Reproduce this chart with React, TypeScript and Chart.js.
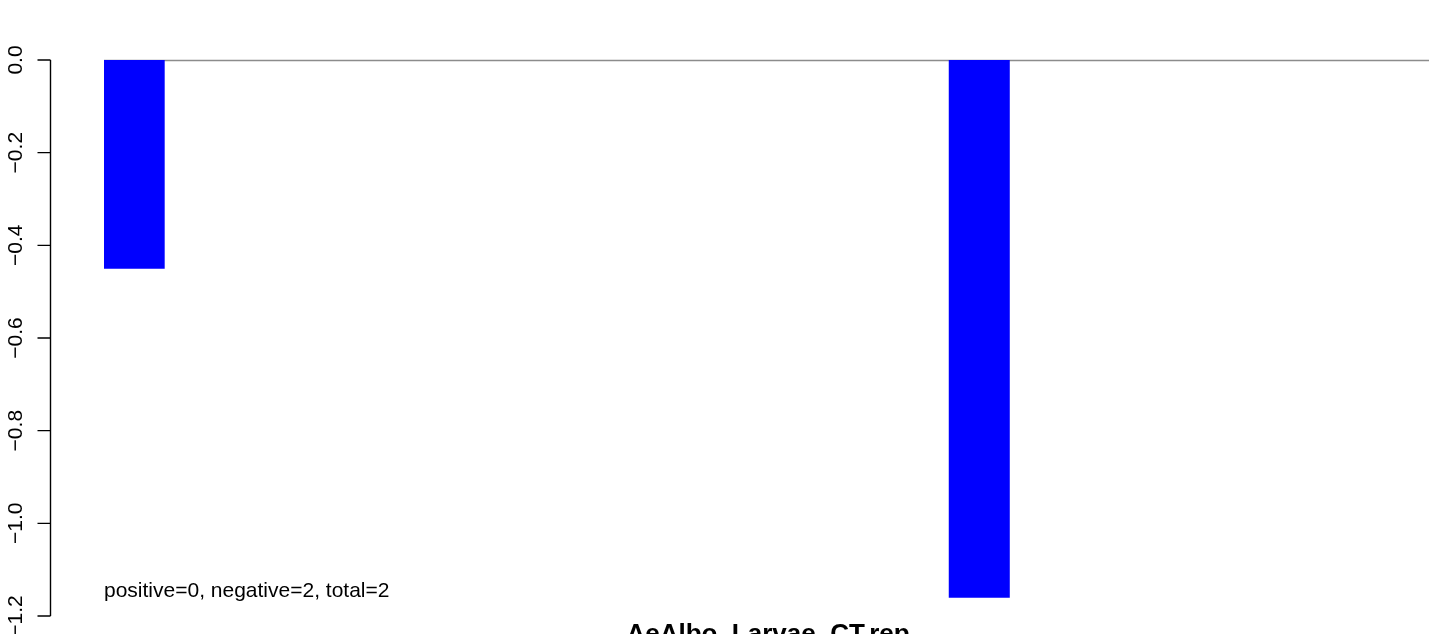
import React, { useEffect, useRef } from "react";
import { Chart, registerables } from "chart.js";

Chart.register(...registerables);

// ---- data ----
const categories: string[] = [
  "g1", "g2", "g3", "g4", "g5", "g6", "g7", "g8", "g9", "g10", "g11",
  "g12", "g13", "g14", "g15", "g16", "g17", "g18", "g19", "g20", "g21", "g22",
];
const values: (number | null)[] = [
  -0.45, null, null, null, null, null, null, null, null, null, null,
  null, null, null, -1.16, null, null, null, null, null, null, null,
];
const yTickValues: number[] = [0, -0.2, -0.4, -0.6, -0.8, -1.0, -1.2];
const yTickLabels: string[] = ["0.0", "\u22120.2", "\u22120.4", "\u22120.6", "\u22120.8", "\u22121.0", "\u22121.2"];
const summaryText = "positive=0, negative=2, total=2";
const titleText = "AeAlbo_Larvae_CT.rep";

const FONT = '"Liberation Sans", Arial, Helvetica, sans-serif';

const decorPlugin = {
  id: "decor",
  beforeDatasetsDraw(chart: any) {
    const { ctx, chartArea } = chart;
    const y = chart.scales.y;
    const y0 = Math.round(y.getPixelForValue(0)) + 0.5;
    ctx.save();
    ctx.strokeStyle = "#8c8c8c";
    ctx.lineWidth = 1.3;
    ctx.beginPath();
    ctx.moveTo(chartArea.left, y0);
    ctx.lineTo(chart.width, y0);
    ctx.stroke();
    ctx.restore();
  },
  afterDraw(chart: any) {
    const { ctx, chartArea } = chart;
    const y = chart.scales.y;
    const axisX = chartArea.left - 53.5;
    ctx.save();
    ctx.strokeStyle = "#000";
    ctx.lineWidth = 1.4;
    ctx.beginPath();
    ctx.moveTo(axisX, y.getPixelForValue(yTickValues[0]));
    ctx.lineTo(axisX, y.getPixelForValue(yTickValues[yTickValues.length - 1]));
    yTickValues.forEach((v) => {
      const py = y.getPixelForValue(v);
      ctx.moveTo(axisX - 13, py);
      ctx.lineTo(axisX, py);
    });
    ctx.stroke();

    ctx.fillStyle = "#000";
    ctx.font = `21px ${FONT}`;
    ctx.textAlign = "center";
    ctx.textBaseline = "alphabetic";
    yTickValues.forEach((v, i) => {
      const py = y.getPixelForValue(v);
      ctx.save();
      ctx.translate(22, py);
      ctx.rotate(-Math.PI / 2);
      ctx.fillText(yTickLabels[i], 0, 0);
      ctx.restore();
    });

    // summary annotation
    const minVal = Math.min(...(values.filter((v) => v !== null) as number[]));
    ctx.textAlign = "left";
    ctx.font = `21px ${FONT}`;
    ctx.fillText(summaryText, chartArea.left, y.getPixelForValue(minVal));

    // title
    ctx.textAlign = "center";
    ctx.font = `bold 26px ${FONT}`;
    ctx.fillText(titleText, (chartArea.left + chartArea.right) / 2, 642);
    ctx.restore();
  },
};

export default function App() {
  const ref = useRef<HTMLCanvasElement | null>(null);
  useEffect(() => {
    document.body.style.margin = "0";
    const canvas = ref.current!;
    const chart = new Chart(canvas, {
      type: "bar",
      data: {
        labels: categories,
        datasets: [
          {
            data: values as any,
            backgroundColor: "#0000FF",
            borderWidth: 0,
            barPercentage: 1,
            categoryPercentage: 1,
          },
        ],
      },
      options: {
        responsive: false,
        maintainAspectRatio: false,
        animation: false,
        devicePixelRatio: 1,
        layout: { padding: { left: 104, right: 0, top: 60, bottom: 18 } },
        scales: {
          x: { type: "category", display: false, offset: true },
          y: { type: "linear", min: -1.2, max: 0, display: false },
        },
        plugins: {
          legend: { display: false },
          tooltip: { enabled: false },
          title: { display: false },
        },
      },
      plugins: [decorPlugin],
    });
    return () => chart.destroy();
  }, []);
  return (
    <div style={{ width: 1429, height: 634, overflow: "hidden", background: "#fff" }}>
      <canvas ref={ref} width={1432} height={634} style={{ display: "block" }} />
    </div>
  );
}
